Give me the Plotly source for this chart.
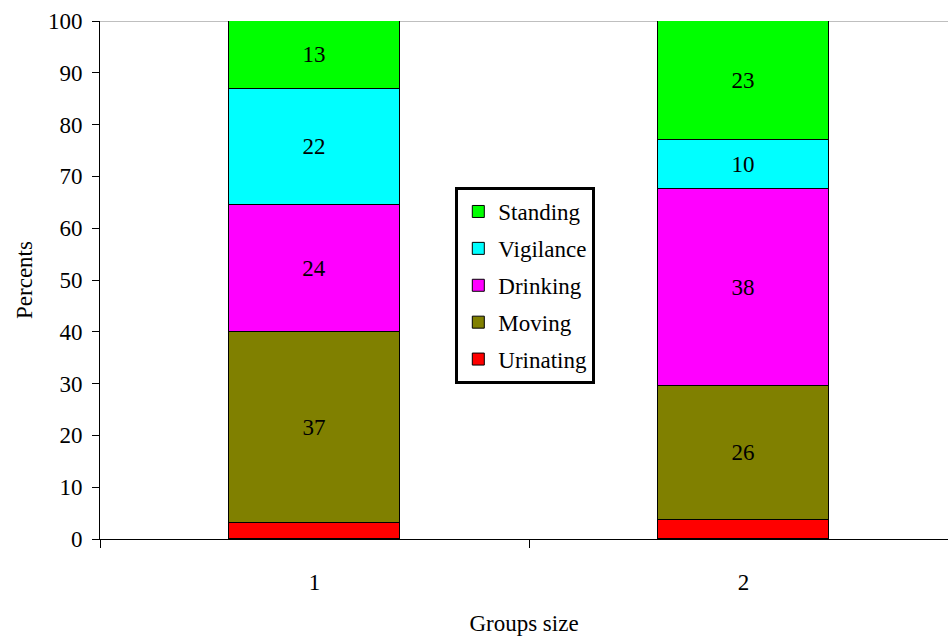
import plotly.graph_objects as go

groups = [1, 2]
group_labels = ["1", "2"]
series_names = ["Urinating", "Moving", "Drinking", "Vigilance", "Standing"]
urinating = [3.0, 3.7]
moving = [37.0, 25.9]
drinking = [24.4, 37.9]
vigilance = [22.4, 9.6]
standing = [13.2, 22.9]
colors = ["#FF0000", "#808000", "#FF00FF", "#00FFFF", "#00FF00"]
y_ticks = list(range(0, 101, 10))

series_values = [urinating, moving, drinking, vigilance, standing]
FONT = "Liberation Serif"

fig = go.Figure()
for i, (name, vals, col) in enumerate(zip(series_names, series_values, colors)):
    if name == "Urinating":
        txt = ["" for v in vals]
    else:
        txt = [str(int(round(v))) for v in vals]
    fig.add_trace(go.Bar(
        x=groups, y=vals, name=name, legendgroup=name,
        legendrank=len(series_names) - i,
        marker=dict(color=col, line=dict(color="black", width=1)),
        width=0.4, text=txt, textposition="inside", insidetextanchor="middle",
        textangle=0, constraintext="none",
        textfont=dict(family=FONT, size=23, color="black"),
        hoverinfo="skip",
    ))

fig.update_layout(
    template="none",
    width=948, height=636,
    margin=dict(l=100, r=0, t=21, b=97),
    paper_bgcolor="white", plot_bgcolor="white",
    barmode="stack", bargap=0,
    font=dict(family=FONT, size=23, color="black"),
    showlegend=True,
    legend=dict(
        x=0.419, y=0.6795, xanchor="left", yanchor="top",
        traceorder="grouped", tracegroupgap=4,
        bordercolor="black", borderwidth=3, bgcolor="white",
        font=dict(family=FONT, size=23, color="black"),
        itemwidth=30,
    ),
)
fig.update_xaxes(
    range=[0.5, 0.5 + 848 / 429], tickvals=groups, ticktext=group_labels,
    ticks="outside", ticklen=22, tickcolor="rgba(0,0,0,0)",
    showline=True, linecolor="black", linewidth=1,
    showgrid=False, zeroline=False,
    minor=dict(ticks="outside", ticklen=8, tick0=0.5, dtick=1, tickcolor="black", tickwidth=1, showgrid=False),
    tickfont=dict(family=FONT, size=23, color="black"),
    title=dict(text="Groups size", font=dict(family=FONT, size=23, color="black"), standoff=26),
)
fig.update_yaxes(
    range=[0, 100], tickvals=y_ticks,
    ticks="outside", ticklen=7, tickcolor="black", tickwidth=1,
    ticklabelstandoff=5,
    showline=True, linecolor="black", linewidth=1,
    showgrid=False, zeroline=False,
    tickfont=dict(family=FONT, size=23, color="black"),
    title=dict(text="Percents", font=dict(family=FONT, size=23, color="black"), standoff=8),
)
fig.add_shape(type="line", xref="paper", yref="y", x0=0, x1=1, y0=100, y1=100,
              line=dict(color="#808080", width=1), layer="below")

fig.write_html("out.html")
